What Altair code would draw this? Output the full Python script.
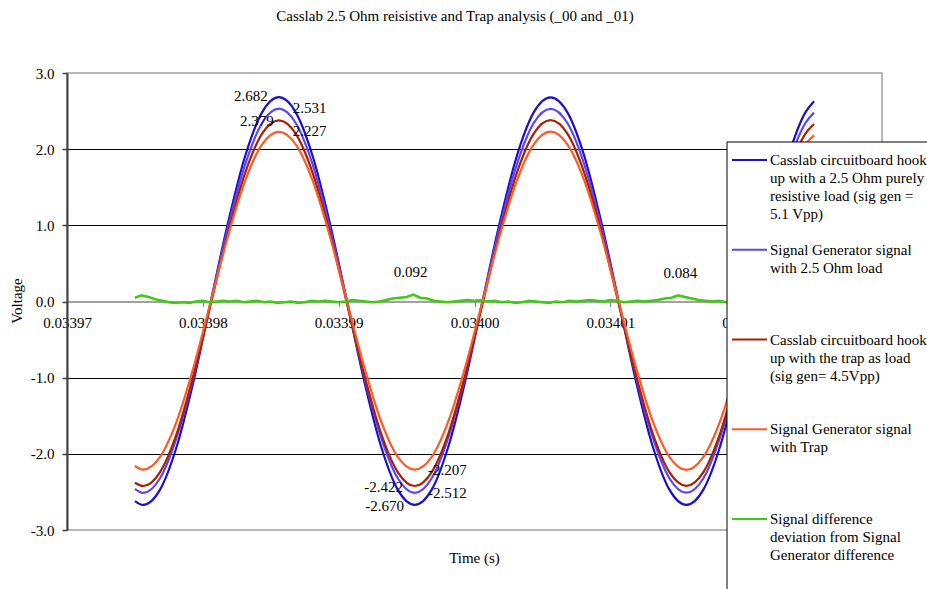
import altair as alt
import pandas as pd

FONT = "Liberation Serif"
FS = 15

title_text = "Casslab 2.5 Ohm reisistive and Trap analysis (_00 and _01)"

series_names = [
    "Casslab circuitboard hook up with a 2.5 Ohm purely resistive load (sig gen = 5.1 Vpp)",
    "Signal Generator signal with 2.5 Ohm load",
    "Casslab circuitboard hook up with the trap as load (sig gen= 4.5Vpp)",
    "Signal Generator signal with Trap",
    "Signal difference deviation from Signal Generator difference",
]
legend_lines = [
    ["Casslab circuitboard hook", "up with a 2.5 Ohm purely", "resistive load (sig gen =", "5.1 Vpp)"],
    ["Signal Generator signal", "with 2.5 Ohm load"],
    ["Casslab circuitboard hook", "up with the trap as load", "(sig gen= 4.5Vpp)"],
    ["Signal Generator signal", "with Trap"],
    ["Signal difference", "deviation from Signal", "Generator difference"],
]
series_colors = ["#1C10CC", "#5A46F8", "#A82000", "#FF5A24", "#3CCC10"]

# time samples (s) for the four waveforms
time_s = [
    0.0339750, 0.0339756, 0.03397685, 0.0339781, 0.03397935, 0.0339806,
    0.03398185, 0.0339831, 0.03398435, 0.0339856, 0.03398685, 0.0339881,
    0.03398935, 0.0339906, 0.03399185, 0.0339931, 0.03399435, 0.0339956,
    0.03399685, 0.0339981, 0.03399935, 0.0340006, 0.03400185, 0.0340031,
    0.03400435, 0.0340056, 0.03400685, 0.0340081, 0.03400935, 0.0340106,
    0.03401185, 0.0340131, 0.03401435, 0.0340156, 0.03401685, 0.0340181,
    0.03401935, 0.0340206, 0.03402185, 0.0340231, 0.03402435, 0.0340250,
]
casslab_resistive = [
    -2.62, -2.670, -2.47, -1.89, -1.02, 0.01, 1.03, 1.90, 2.48, 2.682, 2.48, 1.90,
    1.03, 0.01, -1.02, -1.89, -2.47, -2.670, -2.47, -1.89, -1.02, 0.01, 1.03, 1.90,
    2.48, 2.68, 2.48, 1.90, 1.03, 0.01, -1.02, -1.89, -2.47, -2.67, -2.47, -1.89,
    -1.02, 0.01, 1.03, 1.90, 2.48, 2.63,
]
siggen_resistive = [
    -2.46, -2.512, -2.32, -1.77, -0.96, 0.01, 0.97, 1.79, 2.34, 2.531, 2.34, 1.79,
    0.97, 0.01, -0.96, -1.77, -2.32, -2.512, -2.32, -1.77, -0.96, 0.01, 0.97, 1.79,
    2.34, 2.53, 2.34, 1.79, 0.97, 0.01, -0.96, -1.77, -2.32, -2.51, -2.32, -1.77,
    -0.96, 0.01, 0.97, 1.79, 2.34, 2.48,
]
casslab_trap = [
    -2.38, -2.422, -2.24, -1.72, -0.94, -0.02, 0.90, 1.68, 2.20, 2.379, 2.20, 1.68,
    0.90, -0.02, -0.94, -1.72, -2.24, -2.422, -2.24, -1.72, -0.94, -0.02, 0.90, 1.68,
    2.20, 2.38, 2.20, 1.68, 0.90, -0.02, -0.94, -1.72, -2.24, -2.42, -2.24, -1.72,
    -0.94, -0.02, 0.90, 1.68, 2.20, 2.33,
]
siggen_trap = [
    -2.16, -2.207, -2.04, -1.56, -0.84, 0.01, 0.86, 1.58, 2.06, 2.227, 2.06, 1.58,
    0.86, 0.01, -0.84, -1.56, -2.04, -2.207, -2.04, -1.56, -0.84, 0.01, 0.86, 1.58,
    2.06, 2.23, 2.06, 1.58, 0.86, 0.01, -0.84, -1.56, -2.04, -2.21, -2.04, -1.56,
    -0.84, 0.01, 0.86, 1.58, 2.06, 2.18,
]

# difference signal: time offsets in microseconds after 0.03397 s
diff_us = [
    5.0, 5.5, 6.0, 6.5, 7.0, 7.5, 8.0, 8.5, 9.0, 9.5,
    10.0, 10.5, 11.0, 11.5, 12.0, 12.5, 13.0, 13.5, 14.0, 14.5,
    15.0, 15.5, 16.0, 16.5, 17.0, 17.5, 18.0, 18.5, 19.0, 19.5,
    20.0, 20.5, 21.0, 21.5, 22.0, 22.5, 23.0, 23.5, 24.0, 24.5,
    25.0, 25.5, 26.0, 26.5, 27.0, 27.5, 28.0, 28.5, 29.0, 29.5,
    30.0, 30.5, 31.0, 31.5, 32.0, 32.5, 33.0, 33.5, 34.0, 34.5,
    35.0, 35.5, 36.0, 36.5, 37.0, 37.5, 38.0, 38.5, 39.0, 39.5,
    40.0, 40.5, 41.0, 41.5, 42.0, 42.5, 43.0, 43.5, 44.0, 44.5,
    45.0, 45.5, 46.0, 46.5, 47.0, 47.5, 48.0, 48.5, 49.0, 49.5,
    50.0, 50.5, 51.0, 51.5, 52.0, 52.5, 53.0, 53.5, 54.0, 54.5,
    55.0,
]
diff_v = [
    0.05, 0.08, 0.06, 0.03, 0.01, -0.01, -0.02, -0.01, -0.02, 0.00,
    0.01, -0.01, 0.00, 0.01, 0.00, 0.01, -0.01, 0.00, 0.01, -0.01,
    0.00, -0.02, -0.01, 0.00, -0.02, -0.01, 0.01, 0.00, 0.01, 0.00,
    -0.01, 0.00, 0.02, 0.01, 0.00, -0.01, 0.00, 0.02, 0.04, 0.05,
    0.06, 0.09, 0.05, 0.04, 0.01, 0.00, -0.01, 0.00, 0.01, 0.02,
    0.01, 0.02, 0.00, 0.01, -0.01, 0.00, -0.02, -0.01, 0.01, 0.00,
    -0.01, -0.02, 0.00, -0.01, 0.01, 0.00, 0.01, 0.02, 0.01, 0.00,
    0.02, 0.01, -0.01, 0.00, 0.01, 0.00, 0.01, 0.02, 0.04, 0.05,
    0.08, 0.06, 0.04, 0.02, 0.01, 0.00, 0.01, -0.01, 0.00, 0.01,
    0.00, -0.01, 0.00, 0.01, 0.00, -0.01, 0.00, 0.01, 0.00, -0.01,
    0.00,
]

# data labels (text, position in data units)
label_text = ["2.682", "2.531", "2.379", "2.227", "-2.422", "-2.670", "-2.207", "-2.512", "0.092", "0.084"]
label_time = [0.03398353, 0.03398787, 0.03398397, 0.03398787, 0.03399331,
              0.03399338, 0.03399801, 0.03399801, 0.03399529, 0.03401515]
label_volt = [2.698, 2.540, 2.370, 2.238, -2.435, -2.685, -2.212, -2.514, 0.387, 0.374]

x_ticks = [0.03397, 0.03398, 0.03399, 0.03400, 0.03401, 0.03402, 0.03403]
y_ticks = [-3, -2, -1, 0, 1, 2, 3]

# ---------------------------------------------------------------- tables
wave_rows = []
for name, vals in zip(series_names[:4], [casslab_resistive, siggen_resistive, casslab_trap, siggen_trap]):
    for t, v in zip(time_s, vals):
        wave_rows.append({"series": name, "time": t, "volt": v})
wave_df = pd.DataFrame(wave_rows)

diff_df = pd.DataFrame({
    "series": series_names[4],
    "time": [0.03397 + u * 1e-6 for u in diff_us],
    "volt": diff_v,
})
labels_df = pd.DataFrame({"text": label_text, "time": label_time, "volt": label_volt})

# ---------------------------------------------------------------- scales/axes
W, H = 815, 457
x_scale = alt.Scale(domain=[0.03397, 0.03403], nice=False, zero=False)
y_scale = alt.Scale(domain=[-3, 3], nice=False, zero=False)
color_scale = alt.Scale(domain=series_names, range=series_colors)

x_axis = alt.Axis(
    values=x_ticks, format=".5f", title="Time (s)", offset=-H / 2,
    labelFlush=False, labelOverlap=False, grid=False,
    tickSize=5, tickColor="#808080", domainColor="#808080", domainWidth=1.5,
    labelFont=FONT, labelFontSize=FS, labelColor="black", labelPadding=9,
    titleFont=FONT, titleFontSize=FS, titleFontWeight="normal", titleColor="black",
    titleX=407, titleY=255.5, titleBaseline="middle", zindex=0,
)
y_axis = alt.Axis(
    values=y_ticks, title="Voltage",
    labelExpr="replace(format(datum.value, '.1f'), '\u2212', '-')",
    grid=True, gridWidth=1,
    gridColor={"condition": {"test": "abs(datum.value) > 2.5 || datum.value == 0", "value": "transparent"}, "value": "black"},
    domainColor="#404040", domainWidth=2, tickColor="#404040", tickSize=5, tickWidth=1.5,
    labelFont=FONT, labelFontSize=FS, labelColor="black", labelPadding=8,
    titleFont=FONT, titleFontSize=FS, titleFontWeight="normal", titleColor="black",
    titleX=-50.5, titleY=H / 2 - 1, titleBaseline="middle", titleAngle=-90, zindex=0,
)

X = alt.X("time:Q", scale=x_scale, axis=x_axis)
Y = alt.Y("volt:Q", scale=y_scale, axis=y_axis)
C = alt.Color("series:N", scale=color_scale, legend=None)

waves = alt.Chart(wave_df).mark_line(strokeWidth=2.2, interpolate="monotone").encode(
    x=X, y=Y, color=C, order=alt.Order("time:Q"))
diff_line = alt.Chart(diff_df).mark_line(strokeWidth=2.5).encode(
    x=alt.X("time:Q", scale=x_scale), y=alt.Y("volt:Q", scale=y_scale), color=C)
data_labels = alt.Chart(labels_df).mark_text(
    font=FONT, fontSize=FS, color="black", align="center", baseline="middle").encode(
    x=alt.X("time:Q", scale=x_scale), y=alt.Y("volt:Q", scale=y_scale), text="text:N")

# ---------------------------------------------------------------- legend (drawn on top)
layers = [waves, diff_line, data_labels]
box = alt.Chart(pd.DataFrame({"k": [0]})).mark_rect(
    fill="white", stroke="black", strokeWidth=1).encode(
    x=alt.value(660), x2=alt.value(900), y=alt.value(69), y2=alt.value(540))
layers.append(box)
leg_y0, leg_step = 87, 89.75
for i, (lines, col) in enumerate(zip(legend_lines, series_colors)):
    yy = leg_y0 + i * leg_step
    rule = alt.Chart(pd.DataFrame({"k": [0]})).mark_rule(color=col, strokeWidth=2).encode(
        x=alt.value(665), x2=alt.value(700), y=alt.value(yy))
    txt = alt.Chart(pd.DataFrame({"label": ["\n".join(lines)]})).mark_text(
        font=FONT, fontSize=FS, color="black", align="left", baseline="alphabetic",
        lineBreak="\n", lineHeight=18, dy=5).encode(
        x=alt.value(703), y=alt.value(yy), text="label:N")
    layers += [rule, txt]

title = alt.Chart(pd.DataFrame({"t": [title_text]})).mark_text(
    font=FONT, fontSize=FS, color="black", align="center", baseline="middle").encode(
    x=alt.value(455 - 67), y=alt.value(16 - 73), text="t:N")
layers.append(title)

chart = alt.layer(*layers).properties(
    width=W, height=H,
    autosize=alt.AutoSizeParams(type="none"),
    padding={"left": 67, "top": 73, "right": 45, "bottom": 59},
    background="white",
).configure_view(stroke="#a0a0a0", strokeWidth=1.5)

chart.save("out.html", embed_options={"renderer": "svg", "actions": False})
